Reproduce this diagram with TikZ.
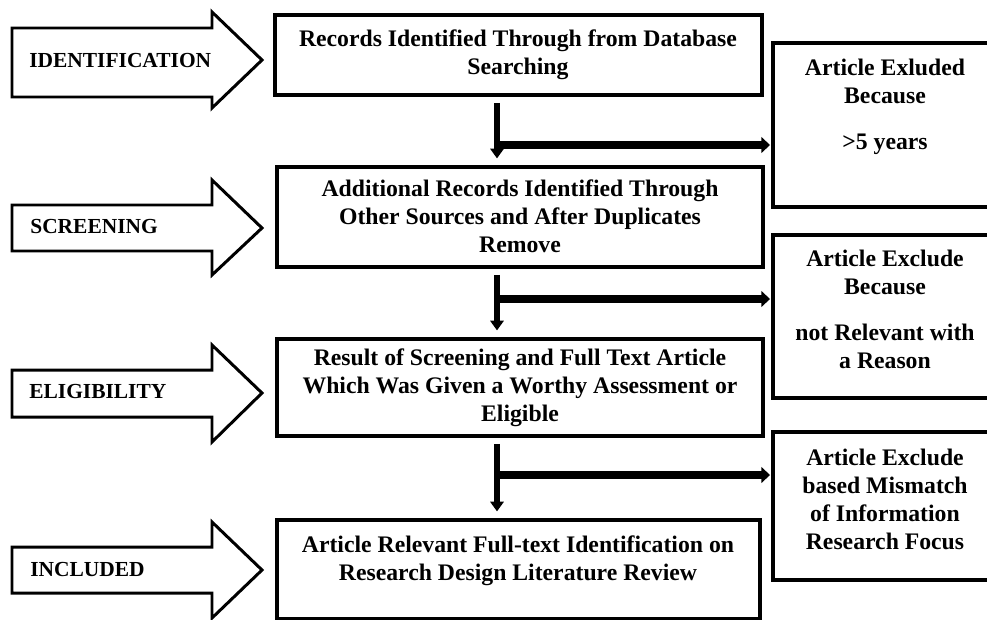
\documentclass[tikz,border=0pt]{standalone}
\usepackage{fontspec}
\setmainfont{Liberation Serif}
\usepackage{tikz}
\usetikzlibrary{arrows.meta}

\begin{document}
\begin{tikzpicture}[x=0.02cm,y=-0.02cm]
		\tikzstyle{stage}=[draw=black, line width=1.7pt, fill=white]
		\tikzstyle{stage_text}=[inner sep=0pt, anchor=west, font=\fontsize{12.2}{14}\selectfont\bfseries]
		\tikzstyle{box}=[draw=black, line width=1.8pt, inner sep=0pt]
		\tikzstyle{box_text}=[inner sep=0pt, anchor=north, align=center, font=\fontsize{13.5}{16}\selectfont\bfseries]
		\tikzstyle{down}=[line width=3.5pt, -{Triangle[length=5.5pt,width=7.5pt]}, shorten <=3.6pt, shorten >=4pt]
		\tikzstyle{side}=[line width=4.5pt, -{Triangle[length=5pt,width=9pt]}, shorten >=0.8pt]

		\useasboundingbox (0,0) rectangle (987,619);

		% stages on the left
		\draw[stage] (12,28) -- (212,28) -- (212,12) -- (262,60) -- (212,108) -- (212,97) -- (12,97) -- cycle;
		\node[stage_text] (id_text) at (29,61) {IDENTIFICATION};

		\draw[stage] (12,205) -- (212,205) -- (212,180) -- (262,228) -- (212,275) -- (212,251) -- (12,251) -- cycle;
		\node[stage_text] (scr_text) at (30,227) {SCREENING};

		\draw[stage] (12,370) -- (212,370) -- (212,345) -- (262,393) -- (212,442) -- (212,417) -- (12,417) -- cycle;
		\node[stage_text] (elig_text) at (29,392) {ELIGIBILITY};

		\draw[stage] (12,547) -- (212,547) -- (212,522) -- (262,570) -- (212,618) -- (212,593) -- (12,593) -- cycle;
		\node[stage_text] (inc_text) at (30,569) {INCLUDED};

		% main column
		\node[box, minimum width=9.74cm, minimum height=1.6cm] (rec) at (518.5,55) {};
		\node[box_text] (rec_text) at (518,29.5) {Records Identified Through from Database\\Searching};

		\node[box, minimum width=9.72cm, minimum height=2cm] (add) at (520,217) {};
		\node[box_text] (add_text) at (520,179.5) {Additional Records Identified Through\\Other Sources and After Duplicates\\Remove};

		\node[box, minimum width=9.72cm, minimum height=1.94cm] (res) at (520,387.5) {};
		\node[box_text] (res_text) at (520,348.5) {Result of Screening and Full Text Article\\Which Was Given a Worthy Assessment or\\Eligible};

		\node[box, minimum width=9.66cm, minimum height=1.98cm] (inc) at (518.5,569.5) {};
		\node[box_text] (inc_text2) at (518,535.5) {Article Relevant Full-text Identification on\\Research Design Literature Review};

		% excluded column
		\node[box, minimum width=4.48cm, minimum height=3.28cm] (ex1) at (885,125) {};
		\node[box_text] (ex1_text) at (885,58.5) {Article Exluded\\Because\\[10pt]>5 years};

		\node[box, minimum width=4.48cm, minimum height=3.26cm] (ex2) at (885,316.5) {};
		\node[box_text] (ex2_text) at (885,249.5) {Article Exclude\\Because\\[10pt]not Relevant with\\a Reason};

		\node[box, minimum width=4.48cm, minimum height=2.96cm] (ex3) at (885,506) {};
		\node[box_text] (ex3_text) at (885,448.5) {Article Exclude\\based Mismatch\\of Information\\Research Focus};

		% connectors
		\coordinate (split1) at (497,145);
		\coordinate (split2) at (497,299);
		\coordinate (split3) at (497,475);

		\draw[down] (split1 |- rec.south) -- (split1 |- add.north);
		\draw[side] (split1) -- (split1 -| ex1.west);

		\draw[down] (split2 |- add.south) -- (split2 |- res.north);
		\draw[side] (split2) -- (split2 -| ex2.west);

		\draw[down] (split3 |- res.south) -- (split3 |- inc.north);
		\draw[side] (split3) -- (split3 -| ex3.west);

	\end{tikzpicture}
\end{document}
